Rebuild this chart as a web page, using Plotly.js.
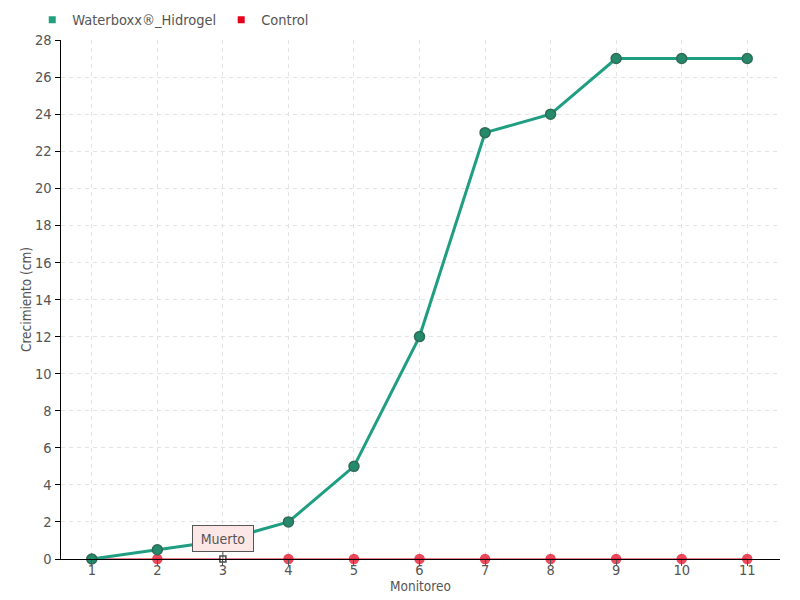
<!DOCTYPE html>
<html>
<head>
<meta charset="utf-8">
<script src="https://cdn.plot.ly/plotly-3.0.1.min.js"></script>
<style>html,body{margin:0;padding:0;background:#fff;}#chart{width:800px;height:600px;}</style>
</head>
<body>
<div id="chart"></div>
<script>
const monitoreo = [1, 2, 3, 4, 5, 6, 7, 8, 9, 10, 11];
const waterboxx = [0, 0.5, 1, 2, 5, 12, 23, 24, 27, 27, 27];
const control = [0, 0, 0, 0, 0, 0, 0, 0, 0, 0, 0];
const seriesNames = ["Waterboxx®_Hidrogel", "Control"];
const annotationText = "Muerto";
const annotationIndex = 2;

const FONT = "'DejaVu Sans Condensed', 'Liberation Sans Narrow', 'DejaVu Sans', sans-serif";
const green = "#1f9e82";
const red = "#e5001b";

const ctrlSymbols = control.map((v, i) => i === annotationIndex ? "square" : "circle");
const ctrlColors = control.map((v, i) => i === annotationIndex ? "#ffffff" : red);
const ctrlLineColors = control.map((v, i) => i === annotationIndex ? "#000000" : red);
const ctrlSizes = control.map((v, i) => i === annotationIndex ? 6 : 9);

const traces = [
  {
    x: monitoreo, y: control, type: "scatter", mode: "lines+markers",
    name: seriesNames[1], showlegend: false,
    line: {color: red, width: 1.2},
    marker: {symbol: ctrlSymbols, color: ctrlColors, size: ctrlSizes, line: {color: ctrlLineColors, width: 1.5}},
    cliponaxis: false
  },
  {
    x: monitoreo, y: waterboxx, type: "scatter", mode: "lines+markers",
    name: seriesNames[0], showlegend: false,
    line: {color: green, width: 3},
    marker: {color: "#25896c", size: 10, line: {color: "#2f6b56", width: 1.5}},
    cliponaxis: false
  },
  {
    x: [null], y: [null], type: "scatter", mode: "markers", name: seriesNames[0],
    marker: {symbol: "square", color: "#23a080", size: 7}
  },
  {
    x: [null], y: [null], type: "scatter", mode: "markers", name: seriesNames[1],
    marker: {symbol: "square", color: red, size: 7}
  }
];

const layout = {
  width: 800, height: 600,
  margin: {l: 61, r: 20, t: 40, b: 41, autoexpand: false},
  paper_bgcolor: "#ffffff", plot_bgcolor: "#ffffff",
  font: {family: FONT, color: "#555555", size: 13},
  showlegend: true,
  legend: {orientation: "h", x: -0.04, xanchor: "left", y: 1.008, yanchor: "bottom",
           font: {family: FONT, size: 14.5, color: "#555555"}, itemwidth: 30,
           tracegroupgap: 0, bgcolor: "rgba(0,0,0,0)"},
  xaxis: {
    range: [0.53, 11.5], tickmode: "array", tickvals: monitoreo, ticktext: monitoreo.map(String),
    showgrid: true, gridcolor: "#e3e3e3", griddash: "4px,4px", gridwidth: 1,
    showline: true, linecolor: "#000000", linewidth: 1,
    ticks: "outside", ticklen: 6, tickcolor: "#555555", ticklabelstandoff: -8,
    zeroline: false,
    tickfont: {family: FONT, size: 14.5, color: "#555555"},
    title: {text: "Monitoreo", font: {family: FONT, size: 13.5, color: "#555555"}, standoff: 0}
  },
  yaxis: {
    range: [0, 28], dtick: 2, tick0: 0,
    showgrid: true, gridcolor: "#e3e3e3", griddash: "4px,4px", gridwidth: 1,
    showline: true, linecolor: "#000000", linewidth: 1.5,
    ticks: "outside", ticklen: 5, tickcolor: "#000000",
    zeroline: false,
    tickfont: {family: FONT, size: 14.5, color: "#555555"},
    title: {text: "Crecimiento (cm)", font: {family: FONT, size: 13.5, color: "#555555"}, standoff: 0}
  },
  annotations: [{
    x: monitoreo[annotationIndex], y: control[annotationIndex], xref: "x", yref: "y",
    text: annotationText, showarrow: true, arrowhead: 0, arrowwidth: 1, arrowcolor: "#555555",
    ax: 0, ay: -21, bgcolor: "#fde6e6", bordercolor: "#555555", borderwidth: 1, borderpad: 3,
    font: {family: FONT, size: 14, color: "#555555"}, width: 54, height: 19
  }]
};

Plotly.newPlot("chart", traces, layout, {displayModeBar: false, staticPlot: true});
</script>
</body>
</html>
